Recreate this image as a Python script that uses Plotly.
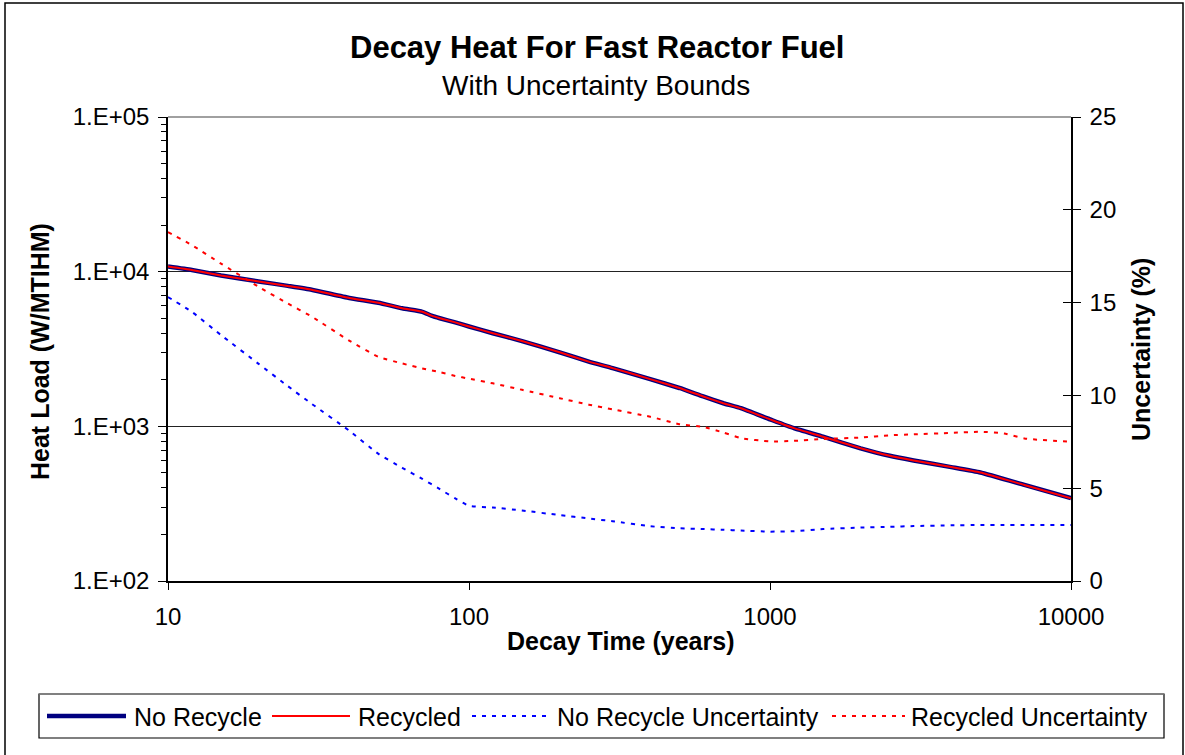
import plotly.graph_objects as go

# ---------------- data ----------------
years = [10, 12, 15, 20, 25, 30, 40, 50, 60, 70, 75, 80, 90, 100, 120, 150, 200,
         250, 300, 400, 500, 600, 700, 800, 1000, 1200, 1500, 2000, 2500, 3000,
         4000, 5000, 7000, 10000]

no_recycle_heat = [10800, 10250, 9450, 8650, 8090, 7640, 6760, 6300, 5800, 5500,
                   5200, 5000, 4700, 4420, 4000, 3560, 3010, 2620, 2380, 2020,
                   1770, 1560, 1410, 1310, 1110, 973, 857, 721, 645, 602, 545,
                   503, 418, 343]
recycled_heat = [10800, 10250, 9450, 8650, 8090, 7640, 6760, 6300, 5800, 5500,
                 5200, 5000, 4700, 4420, 4000, 3560, 3010, 2620, 2380, 2020,
                 1770, 1560, 1410, 1310, 1110, 973, 857, 721, 645, 602, 545,
                 503, 418, 343]

unc_years = [10, 12, 15, 20, 25, 30, 40, 50, 60, 70, 80, 90, 100, 120, 150, 200,
             250, 300, 400, 500, 600, 700, 800, 1000, 1200, 1500, 2000, 2500,
             3000, 4000, 5000, 6000, 7000, 10000]
no_recycle_unc = [15.3, 14.5, 13.25, 11.7, 10.5, 9.55, 8.1, 6.85, 6.1, 5.5, 4.95,
                  4.45, 4.05, 3.96, 3.8, 3.55, 3.37, 3.22, 2.95, 2.84, 2.8, 2.76,
                  2.72, 2.66, 2.68, 2.8, 2.88, 2.92, 2.96, 3.0, 3.02, 3.02, 3.02,
                  3.02]
recycled_unc = [18.8, 18.1, 17.1, 15.85, 14.95, 14.25, 12.95, 12.08, 11.72, 11.45,
                11.25, 11.05, 10.9, 10.65, 10.3, 9.85, 9.5, 9.25, 8.85, 8.45, 8.3,
                8.0, 7.7, 7.52, 7.55, 7.65, 7.73, 7.85, 7.9, 7.98, 8.04, 7.95,
                7.68, 7.5]

heat_ticks = [100, 1000, 10000, 100000]
heat_tick_text = ["1.E+02", "1.E+03", "1.E+04", "1.E+05"]
time_ticks = [10, 100, 1000, 10000]
time_tick_text = ["10", "100", "1000", "10000"]

series_names = ["No Recycle", "Recycled", "No Recycle Uncertainty",
                "Recycled Uncertainty"]

FONT = "Liberation Sans, Arial, sans-serif"

# ---------------- layout geometry (pixels) ----------------
W, H = 1185, 755
L, R, T, B = 168, 1071, 117, 581
pw, ph = R - L, B - T


def px(x):
    return (x - L) / pw


def py(y):
    return (B - y) / ph


styles = [
    dict(color="#000080", width=4.5, dash="solid"),
    dict(color="#FF0000", width=2, dash="solid"),
    dict(color="#0000FF", width=2, dash="4px,6px"),
    dict(color="#FF0000", width=2, dash="4px,6px"),
]

fig = go.Figure()

fig.add_trace(go.Scatter(x=years, y=no_recycle_heat, name=series_names[0],
                         mode="lines", showlegend=False,
                         line=dict(**styles[0], shape="spline", smoothing=0.4)))
fig.add_trace(go.Scatter(x=years, y=recycled_heat, name=series_names[1],
                         mode="lines", showlegend=False,
                         line=dict(**styles[1], shape="spline", smoothing=0.4)))
fig.add_trace(go.Scatter(x=unc_years, y=no_recycle_unc, name=series_names[2],
                         mode="lines", yaxis="y2", showlegend=False,
                         line=dict(**styles[2], shape="spline", smoothing=0.5)))
fig.add_trace(go.Scatter(x=unc_years, y=recycled_unc, name=series_names[3],
                         mode="lines", yaxis="y2", showlegend=False,
                         line=dict(**styles[3], shape="spline", smoothing=0.5)))

# invisible trace to carry the inner half of the right axis "cross" ticks
fig.add_trace(go.Scatter(x=[10], y=[0], yaxis="y3", mode="markers",
                         marker=dict(opacity=0), showlegend=False,
                         hoverinfo="skip"))

fig.update_layout(
    width=W, height=H,
    margin=dict(l=L, r=W - R, t=T, b=H - B, autoexpand=False),
    paper_bgcolor="white", plot_bgcolor="white",
    font=dict(family=FONT, color="black", size=24),
    showlegend=False,
    xaxis=dict(type="log", range=[1, 4], tickvals=time_ticks,
               ticktext=time_tick_text, showgrid=False, zeroline=False,
               showline=True, linecolor="black", linewidth=1.5,
               ticks="outside", ticklen=7, tickcolor="black", automargin=False,
               tickfont=dict(size=24), ticklabelstandoff=6),
    yaxis=dict(type="log", range=[2, 5], tickvals=heat_ticks,
               ticktext=heat_tick_text, showgrid=True, gridcolor="#222",
               gridwidth=1, zeroline=False, showline=True, linecolor="black",
               linewidth=1.5, ticks="outside", ticklen=8, tickcolor="black",
               automargin=False, tickfont=dict(size=24), ticklabelstandoff=4,
               minor=dict(ticks="outside", ticklen=5, tickcolor="black",
                          dtick="D1", showgrid=False)),
    yaxis2=dict(overlaying="y", side="right", range=[0, 25], dtick=5,
                tick0=0, showgrid=False, zeroline=False, showline=True,
                linecolor="black", linewidth=1.5, ticks="outside", ticklen=8,
                tickcolor="black", tickfont=dict(size=24), automargin=False,
                ticklabelstandoff=4),
    yaxis3=dict(overlaying="y", side="right", range=[0, 25], dtick=5,
                tick0=0, showgrid=False, zeroline=False, showline=False,
                ticks="inside", ticklen=8, tickcolor="black",
                showticklabels=False, automargin=False),
)

# title & subtitle
fig.add_annotation(text="<b>Decay Heat For Fast Reactor Fuel</b>", xref="paper",
                   yref="paper", x=px(597), y=py(48), showarrow=False,
                   font=dict(size=31, family=FONT), xanchor="center",
                   yanchor="middle")
fig.add_annotation(text="With Uncertainty Bounds", xref="paper", yref="paper",
                   x=px(596), y=py(86), showarrow=False,
                   font=dict(size=28, family=FONT), xanchor="center",
                   yanchor="middle")
# axis titles
fig.add_annotation(text="<b>Heat Load (W/MTIHM)</b>", xref="paper", yref="paper",
                   x=px(40), y=py(352), showarrow=False, textangle=-90,
                   font=dict(size=25, family=FONT), xanchor="center",
                   yanchor="middle")
fig.add_annotation(text="<b>Uncertainty (%)</b>", xref="paper", yref="paper",
                   x=px(1141), y=py(350), showarrow=False, textangle=-90,
                   font=dict(size=25, family=FONT), xanchor="center",
                   yanchor="middle")
fig.add_annotation(text="<b>Decay Time (years)</b>", xref="paper", yref="paper",
                   x=px(620), y=py(641), showarrow=False,
                   font=dict(size=25, family=FONT), xanchor="center",
                   yanchor="middle")

# top border of plot area (gray)
fig.add_shape(type="line", xref="paper", yref="paper", x0=0, x1=1, y0=1, y1=1,
              line=dict(color="#808080", width=1.5))
# outer chart border
fig.add_shape(type="rect", xref="paper", yref="paper", x0=px(5), x1=px(1183),
              y0=py(765), y1=py(3), line=dict(color="black", width=1.5),
              fillcolor="rgba(0,0,0,0)", layer="below")

# ---------------- legend (drawn to match the reference layout) ----------------
leg_box = (39, 694, 1164, 738)
leg_y = 716
leg_lines = [(47, 126), (272, 350), (472, 546), (832, 905)]
leg_text_x = [132, 356, 555, 909]
fig.add_shape(type="rect", xref="paper", yref="paper",
              x0=px(leg_box[0]), x1=px(leg_box[2]),
              y0=py(leg_box[3]), y1=py(leg_box[1]),
              line=dict(color="black", width=1.2), fillcolor="white",
              layer="below")
fig.add_shape(type="line", xref="paper", yref="paper",
              x0=px(leg_box[0]), x1=px(leg_box[2]),
              y0=py(leg_box[1]), y1=py(leg_box[1]),
              line=dict(color="#808080", width=1.5))
for name, st, (x0, x1), tx in zip(series_names, styles, leg_lines, leg_text_x):
    fig.add_shape(type="line", xref="paper", yref="paper",
                  x0=px(x0), x1=px(x1), y0=py(leg_y), y1=py(leg_y),
                  line=dict(color=st["color"], width=st["width"],
                            dash=st["dash"]))
    fig.add_annotation(text=name, xref="paper", yref="paper", x=px(tx),
                       y=py(leg_y + 1), showarrow=False, xanchor="left",
                       yanchor="middle", font=dict(size=25, family=FONT))

fig.write_html("out.html",
               config={"displayModeBar": False},
               post_script="document.body.style.margin='0px';"
                           "document.body.style.overflow='hidden';")
